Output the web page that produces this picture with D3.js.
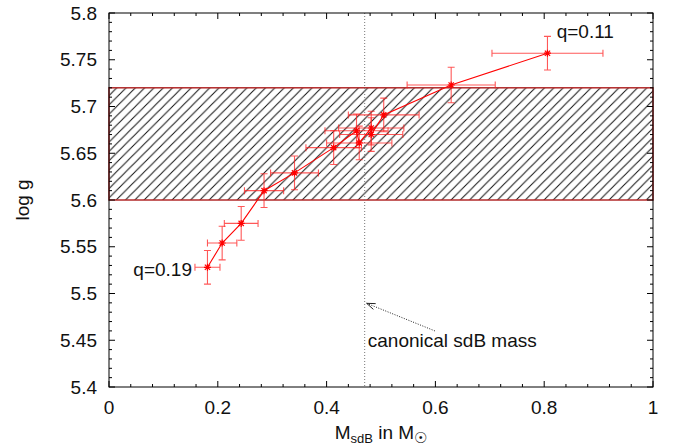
<!DOCTYPE html>
<html><head><meta charset="utf-8">
<script src="https://cdn.jsdelivr.net/npm/d3@7"></script>
<style>body{margin:0;background:#fff}svg{display:block;font-family:"Liberation Sans",Arial,sans-serif}</style>
</head><body><svg id="c" width="675" height="447"></svg>
<script>
// ---- data ----
const mass     = [0.181, 0.208, 0.243, 0.285, 0.341, 0.413, 0.455, 0.460, 0.482, 0.482, 0.505, 0.629, 0.806];
const logg     = [5.528, 5.554, 5.575, 5.610, 5.629, 5.656, 5.674, 5.661, 5.677, 5.670, 5.691, 5.723, 5.757];
const massErr  = [0.023, 0.027, 0.031, 0.036, 0.044, 0.051, 0.058, 0.060, 0.060, 0.058, 0.065, 0.081, 0.102];
const loggErr  = [0.018, 0.018, 0.018, 0.018, 0.018, 0.018, 0.018, 0.018, 0.018, 0.018, 0.018, 0.019, 0.018];
const xTicks = [0, 0.2, 0.4, 0.6, 0.8, 1];
const yTicks = [5.4, 5.45, 5.5, 5.55, 5.6, 5.65, 5.7, 5.75, 5.8];
const band = [5.6, 5.72];
const canonicalMass = 0.47;
const qLabels = [{text: "q=0.19", x: 0.0447, y: 5.519}, {text: "q=0.11", x: 0.823, y: 5.773}];

const svg = d3.select("#c");
const L = 109, R = 653, T = 13, B = 387;
const x = d3.scaleLinear().domain([0, 1]).range([L, R]);
const y = d3.scaleLinear().domain([5.4, 5.8]).range([B, T]);

// hatch pattern
const defs = svg.append("defs");
const w = 9.3;
const pat = defs.append("pattern").attr("id", "hatch").attr("patternUnits", "userSpaceOnUse")
  .attr("width", w).attr("height", w);
pat.append("path").attr("d", `M0,${w} L${w},0 M-2,2 L2,-2 M${w-2},${w+2} L${w+2},${w-2}`)
  .attr("stroke", "#111").attr("stroke-width", 1);

// band
svg.append("rect").attr("x", x(0)).attr("y", y(band[1])).attr("width", x(1) - x(0))
  .attr("height", y(band[0]) - y(band[1])).attr("fill", "url(#hatch)");
svg.append("rect").attr("x", x(0)).attr("y", y(band[1])).attr("width", x(1) - x(0))
  .attr("height", y(band[0]) - y(band[1])).attr("fill", "none").attr("stroke", "#b22a2a").attr("stroke-width", 1.5);

// canonical mass line
svg.append("line").attr("x1", x(canonicalMass)).attr("x2", x(canonicalMass)).attr("y1", T).attr("y2", B)
  .attr("stroke", "#777").attr("stroke-width", 1).attr("stroke-dasharray", "1,2");

// frame
svg.append("rect").attr("x", L).attr("y", T).attr("width", R - L).attr("height", B - T)
  .attr("fill", "none").attr("stroke", "#000").attr("stroke-width", 1);

// ticks
const tk = svg.append("g").attr("stroke", "#000").attr("stroke-width", 1);
const xMinor = d3.range(0, 1.0001, 0.04);
const yMinor = d3.range(5.4, 5.8001, 0.01);
xMinor.forEach(v => {
  const major = xTicks.some(t => Math.abs(t - v) < 1e-6);
  const len = major ? 6 : 3;
  tk.append("line").attr("x1", x(v)).attr("x2", x(v)).attr("y1", B).attr("y2", B - len);
  tk.append("line").attr("x1", x(v)).attr("x2", x(v)).attr("y1", T).attr("y2", T + len);
});
yMinor.forEach(v => {
  const major = yTicks.some(t => Math.abs(t - v) < 1e-6);
  const len = major ? 6 : 3;
  tk.append("line").attr("x1", L).attr("x2", L + len).attr("y1", y(v)).attr("y2", y(v));
  tk.append("line").attr("x1", R).attr("x2", R - len).attr("y1", y(v)).attr("y2", y(v));
});

const fs = 19;
svg.append("g").selectAll("text").data(xTicks).join("text")
  .attr("x", d => x(d)).attr("y", 414).attr("text-anchor", "middle").attr("font-size", fs).attr("fill", "#111")
  .text(d => d3.format("")(d));
svg.append("g").selectAll("text").data(yTicks).join("text")
  .attr("x", 97).attr("y", d => y(d) + 6.7).attr("text-anchor", "end").attr("font-size", fs).attr("fill", "#111")
  .text(d => d3.format("")(+d.toFixed(2)));

// axis titles
svg.append("text").attr("transform", "translate(29,200) rotate(-90)").attr("text-anchor", "middle")
  .attr("font-size", fs).attr("fill", "#111").text("log g");
const xt = svg.append("text").attr("x", 381).attr("y", 439).attr("text-anchor", "middle").attr("font-size", fs).attr("fill", "#111");
xt.append("tspan").text("M");
xt.append("tspan").attr("dy", 4).attr("font-size", 13).text("sdB");
xt.append("tspan").attr("dy", -4).text(" in M");
xt.append("tspan").attr("dy", 4).attr("font-size", 15).text("\u2609");

// annotation
const ax0 = x(0.599), ay0 = y(5.460), ax1 = x(0.4737), ay1 = y(5.4895);
svg.append("line").attr("x1", ax0).attr("y1", ay0).attr("x2", ax1).attr("y2", ay1)
  .attr("stroke", "#222").attr("stroke-width", 1).attr("stroke-dasharray", "1,1.5");
const ang = Math.atan2(ay0 - ay1, ax0 - ax1);
const hl = 9, ha = 0.35;
svg.append("path").attr("d", `M${ax1 + hl*Math.cos(ang-ha)},${ay1 + hl*Math.sin(ang-ha)} L${ax1},${ay1} L${ax1 + hl*Math.cos(ang+ha)},${ay1 + hl*Math.sin(ang+ha)}`)
  .attr("fill", "none").attr("stroke", "#222").attr("stroke-width", 1);
svg.append("text").attr("x", x(0.4757)).attr("y", y(5.443)).attr("font-size", fs).attr("fill", "#111").text("canonical sdB mass");

// q labels
svg.append("g").selectAll("text").data(qLabels).join("text")
  .attr("x", d => x(d.x)).attr("y", d => y(d.y)).attr("font-size", fs).attr("fill", "#111").text(d => d.text);

// data
const pts = mass.map((m, i) => ({m, g: logg[i], dm: massErr[i], dg: loggErr[i]}));
const eb = svg.append("g").attr("stroke", "#ff2020").attr("stroke-opacity", 0.75).attr("stroke-width", 1.1);
const cap = 3.5;
pts.forEach(p => {
  const cx = x(p.m), cy = y(p.g);
  const x0 = x(p.m - p.dm), x1 = x(p.m + p.dm), y0 = y(p.g - p.dg), y1 = y(p.g + p.dg);
  eb.append("path").attr("d",
    `M${x0},${cy}H${x1} M${x0},${cy-cap}V${cy+cap} M${x1},${cy-cap}V${cy+cap}` +
    `M${cx},${y0}V${y1} M${cx-cap},${y0}H${cx+cap} M${cx-cap},${y1}H${cx+cap}`);
});
svg.append("path").datum(pts)
  .attr("d", d3.line().x(d => x(d.m)).y(d => y(d.g)))
  .attr("fill", "none").attr("stroke", "#ff0000").attr("stroke-width", 1.1);
const s = 3.5;
svg.append("g").attr("stroke", "#ff0000").attr("stroke-width", 1.2).selectAll("path").data(pts).join("path")
  .attr("d", d => {
    const cx = x(d.m), cy = y(d.g);
    return `M${cx-s},${cy}H${cx+s} M${cx},${cy-s}V${cy+s} M${cx-s*0.75},${cy-s*0.75}L${cx+s*0.75},${cy+s*0.75} M${cx-s*0.75},${cy+s*0.75}L${cx+s*0.75},${cy-s*0.75}`;
  });
</script></body></html>
